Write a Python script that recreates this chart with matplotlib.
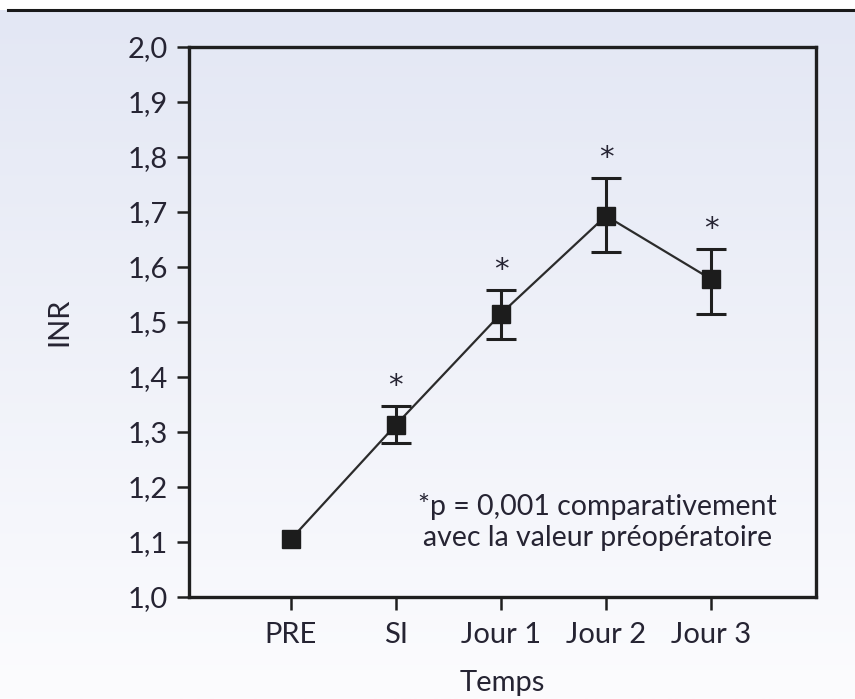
import numpy as np
import matplotlib
matplotlib.use("Agg")
import matplotlib.pyplot as plt
from matplotlib.colors import LinearSegmentedColormap

# données
categories = ["PRE", "SI", "Jour 1", "Jour 2", "Jour 3"]
inr_mean = [1.105, 1.313, 1.515, 1.693, 1.578]
err_low = [np.nan, 0.033, 0.046, 0.066, 0.063]
err_high = [np.nan, 0.034, 0.044, 0.069, 0.055]
significant = [False, True, True, True, True]
y_ticks = [1.0, 1.1, 1.2, 1.3, 1.4, 1.5, 1.6, 1.7, 1.8, 1.9, 2.0]

text_color = "#262433"
plt.rcParams["font.family"] = ["Lato", "DejaVu Sans"]

fig = plt.figure(figsize=(8.55, 6.99), dpi=100)

# fond dégradé bleu clair -> blanc
bg = fig.add_axes([0, 0, 1, 1], zorder=-1)
grad = np.linspace(0, 1, 256).reshape(-1, 1)
cmap = LinearSegmentedColormap.from_list("bg", ["#e3e7f4", "#fcfcfe"])
bg.imshow(grad, aspect="auto", cmap=cmap, extent=[0, 1, 0, 0.985])
bg.set_xlim(0, 1)
bg.set_ylim(0, 1)
bg.plot([0.009, 1], [0.985, 0.985], color="#1a1a1a", lw=2.2)
bg.axis("off")

ax = fig.add_axes([189 / 855, 1 - 597 / 699, (816 - 189) / 855, (597 - 47) / 699])
ax.patch.set_alpha(0)

x = np.arange(len(categories))
ax.plot(x, inr_mean, color="#2b2b2b", lw=1.6, zorder=2)
ax.errorbar(x, inr_mean, yerr=[err_low, err_high], fmt="none",
            ecolor="#1f1f1f", elinewidth=2.2, capsize=11, capthick=2.2, zorder=3)
ax.plot(x, inr_mean, "s", color="#1c1c1c", markersize=13, zorder=4)

# astérisques de signification
for xi, m, eh, s in zip(x, inr_mean, err_high, significant):
    if s:
        ax.text(xi, m + eh + 0.036, "*", ha="center", va="center",
                fontsize=21, color=text_color, family="DejaVu Sans")

ax.text(2.92, 1.137, "*p = 0,001 comparativement\navec la valeur préopératoire",
        ha="center", va="center", fontsize=20.5, color=text_color,
        linespacing=1.25)

ax.set_xlim(-0.97, 5.0)
ax.set_ylim(1.0, 2.0)
ax.set_xticks(x)
ax.set_xticklabels(categories)
ax.set_yticks(y_ticks)
ax.set_yticklabels([f"{v:.1f}".replace(".", ",") for v in y_ticks])

for sp in ax.spines.values():
    sp.set_linewidth(2.4)
    sp.set_color("#1f1f1f")
ax.tick_params(axis="both", direction="out", length=9, width=1.8,
               color="#1f1f1f", labelsize=21, labelcolor=text_color)
ax.tick_params(axis="x", pad=9)
ax.tick_params(axis="y", pad=6)

ax.set_xlabel("Temps", fontsize=21, color=text_color, labelpad=16)
ax.set_ylabel("INR", fontsize=21, color=text_color, labelpad=40)

fig.savefig("out.png", dpi=100)
